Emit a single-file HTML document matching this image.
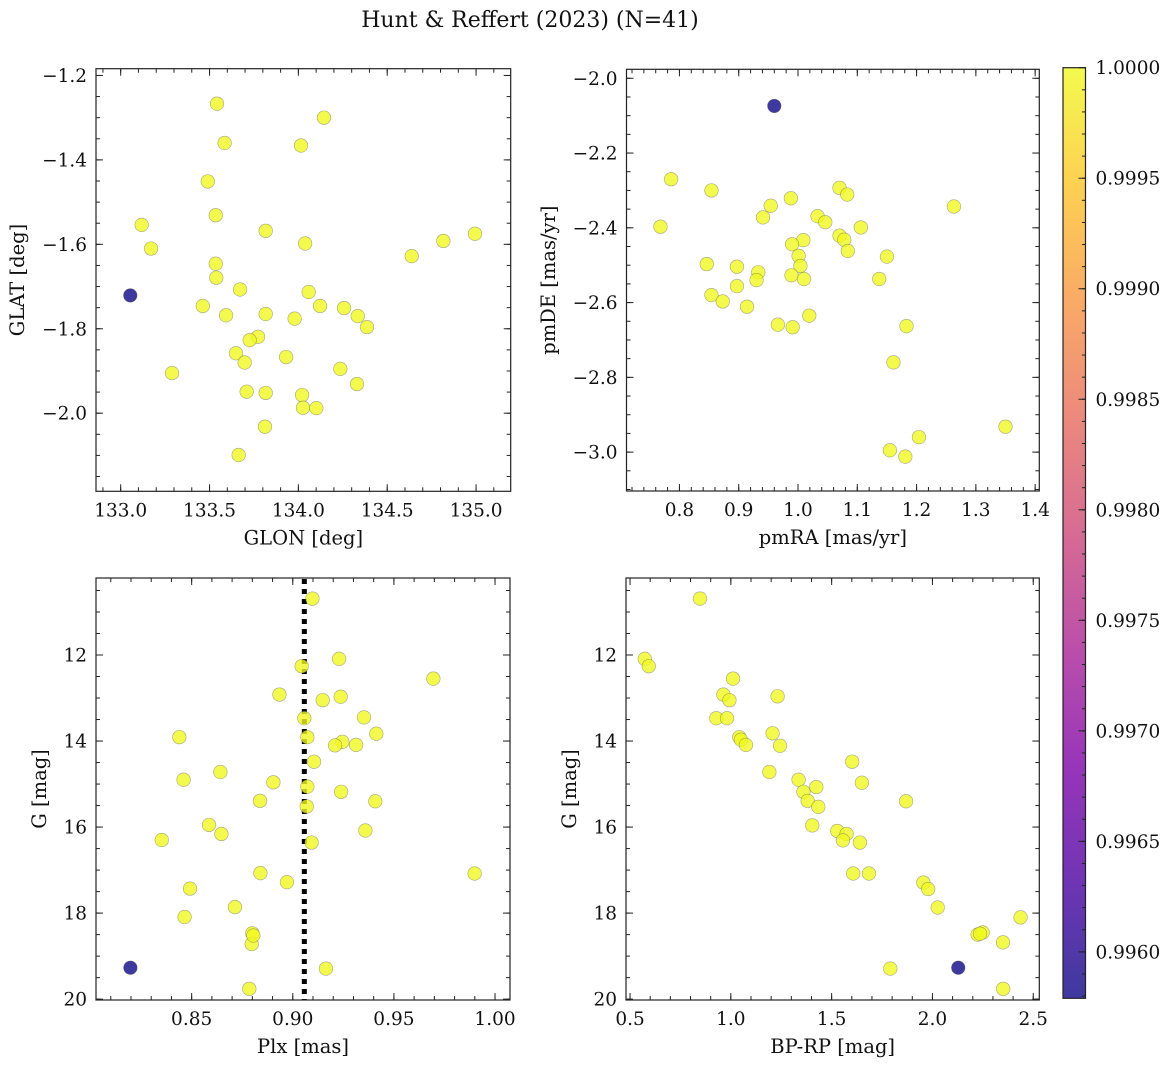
<!DOCTYPE html>
<html><head><meta charset="utf-8"><title>Hunt & Reffert (2023)</title>
<style>
html,body{margin:0;padding:0;background:#fff;}
svg text{font-family:"DejaVu Serif","Liberation Serif",serif;fill:#111;}
</style></head>
<body>
<svg id="fig" width="1173" height="1067" viewBox="0 0 1173 1067" xmlns="http://www.w3.org/2000/svg">
<defs>
<linearGradient id="plasma" x1="0" y1="1" x2="0" y2="0">
<stop offset="0" stop-color="#0d0887"/><stop offset="0.125" stop-color="#4c02a1"/>
<stop offset="0.25" stop-color="#7e03a8"/><stop offset="0.375" stop-color="#a92395"/>
<stop offset="0.5" stop-color="#cc4778"/><stop offset="0.625" stop-color="#e66c5c"/>
<stop offset="0.75" stop-color="#f89540"/><stop offset="0.875" stop-color="#fdc527"/>
<stop offset="1" stop-color="#f0f921"/>
</linearGradient>
</defs>
<text x="530" y="27" font-size="22" text-anchor="middle">Hunt &amp; Reffert (2023) (N=41)</text>
</svg>
<script>
// ---- data ----
const glon = [133.542,134.144,133.585,134.015,133.490,133.535,133.118,133.171,133.816,134.038,134.994,134.816,134.638,133.535,133.538,133.054,133.672,134.058,133.462,133.593,133.816,134.122,134.257,134.334,133.979,134.386,133.773,133.726,133.649,133.931,133.698,134.236,133.289,134.330,133.709,133.816,134.021,134.026,134.101,133.812,133.664];
const glat = [-1.267,-1.300,-1.360,-1.366,-1.451,-1.531,-1.554,-1.610,-1.568,-1.598,-1.575,-1.592,-1.628,-1.646,-1.679,-1.721,-1.707,-1.713,-1.746,-1.768,-1.765,-1.746,-1.751,-1.770,-1.776,-1.796,-1.819,-1.827,-1.858,-1.867,-1.880,-1.895,-1.905,-1.931,-1.949,-1.952,-1.957,-1.987,-1.988,-2.032,-2.099];
const glonProb = [1,1,1,1,1,1,1,1,1,1,1,1,1,1,1,0.99579,1,1,1,1,1,1,1,1,1,1,1,1,1,1,1,1,1,1,1,1,1,1,1,1,1];

const pmra = [0.960,0.786,0.854,0.768,0.988,0.954,0.941,1.070,1.083,1.263,1.033,1.046,1.106,1.070,1.078,1.009,0.990,1.084,1.001,1.150,1.004,0.846,0.897,0.933,0.930,0.989,1.010,1.137,0.897,0.854,0.873,0.914,1.019,0.966,0.991,1.183,1.161,1.350,1.204,1.155,1.181];
const pmde = [-2.074,-2.270,-2.300,-2.397,-2.321,-2.341,-2.372,-2.293,-2.311,-2.343,-2.369,-2.385,-2.399,-2.421,-2.432,-2.433,-2.444,-2.462,-2.475,-2.477,-2.502,-2.497,-2.504,-2.519,-2.540,-2.527,-2.537,-2.537,-2.556,-2.580,-2.597,-2.611,-2.635,-2.659,-2.666,-2.663,-2.760,-2.932,-2.960,-2.995,-3.012];
const pmProb = [0.99579,1,1,1,1,1,1,1,1,1,1,1,1,1,1,1,1,1,1,1,1,1,1,1,1,1,1,1,1,1,1,1,1,1,1,1,1,1,1,1,1];

const plx = [0.9097,0.9229,0.9044,0.9695,0.8934,0.9148,0.9237,0.9057,0.9352,0.9413,0.8439,0.9072,0.9245,0.9209,0.9313,0.9105,0.8642,0.8460,0.8904,0.9072,0.9239,0.8838,0.9408,0.9069,0.8586,0.8647,0.9359,0.8352,0.9093,0.8840,0.9899,0.8971,0.8492,0.8714,0.8465,0.8800,0.8797,0.8805,0.9164,0.8785,0.8197];
const gPlx = [10.69,12.09,12.26,12.55,12.92,13.05,12.97,13.47,13.45,13.83,13.91,13.91,14.02,14.10,14.09,14.48,14.72,14.90,14.96,15.06,15.18,15.39,15.40,15.52,15.95,16.16,16.08,16.30,16.36,17.07,17.08,17.28,17.43,17.86,18.09,18.47,18.72,18.52,19.29,19.76,19.27];
const plxProb = [1,1,1,1,1,1,1,1,1,1,1,1,1,1,1,1,1,1,1,1,1,1,1,1,1,1,1,1,1,1,1,1,1,1,1,1,1,1,1,1,0.99579];
const plxMean = 0.9057;

const bprp = [0.847,0.573,0.593,1.011,1.232,0.963,0.993,0.928,0.981,1.207,1.042,1.050,1.075,1.244,1.602,1.191,1.336,1.650,1.424,1.360,1.869,1.381,1.434,1.404,1.528,1.574,1.556,1.640,1.607,1.685,1.955,1.979,2.026,2.437,2.224,2.249,2.350,1.791,2.128,2.351,2.236];
const gCmd = [10.69,12.09,12.26,12.55,12.96,12.92,13.05,13.47,13.47,13.82,13.91,13.97,14.09,14.11,14.48,14.72,14.90,14.97,15.07,15.18,15.40,15.39,15.53,15.96,16.09,16.16,16.31,16.36,17.08,17.08,17.29,17.44,17.87,18.10,18.50,18.45,18.68,19.29,19.27,19.76,18.48];
const cmdProb = [1,1,1,1,1,1,1,1,1,1,1,1,1,1,1,1,1,1,1,1,1,1,1,1,1,1,1,1,1,1,1,1,1,1,1,1,1,1,0.99579,1,1];

const cbarTicks = ["0.9960","0.9965","0.9970","0.9975","0.9980","0.9985","0.9990","0.9995","1.0000"];
const xTicksA = ["133.0","133.5","134.0","134.5","135.0"];
const yTicksA = ["−1.2","−1.4","−1.6","−1.8","−2.0"];
const xTicksB = ["0.8","0.9","1.0","1.1","1.2","1.3","1.4"];
const yTicksB = ["−2.0","−2.2","−2.4","−2.6","−2.8","−3.0"];
const xTicksC = ["0.85","0.90","0.95","1.00"];
const yTicksG = ["12","14","16","18","20"];
const xTicksD = ["0.5","1.0","1.5","2.0","2.5"];

// ---- rendering ----
const NS = "http://www.w3.org/2000/svg";
const svg = document.getElementById('fig');
const VMIN = 0.99579, VMAX = 1.0;
const TICKFS = 18.5, LABELFS = 19.5;
const plasma = [[13,8,135],[76,2,161],[126,3,168],[169,35,149],[204,71,120],[230,108,92],[248,149,64],[253,197,39],[240,249,33]];
function cmap(v){
  let t=(v-VMIN)/(VMAX-VMIN); t=Math.max(0,Math.min(1,t));
  const f=t*8, i=Math.min(7,Math.floor(f)), r=f-i;
  const c=plasma[i].map((a,k)=>Math.round(a+(plasma[i+1][k]-a)*r));
  return `rgb(${c[0]},${c[1]},${c[2]})`;
}
function el(tag, attrs, parent){
  const e=document.createElementNS(NS,tag);
  for(const k in attrs) e.setAttribute(k,attrs[k]);
  (parent||svg).appendChild(e); return e;
}
function num(s){return parseFloat(s.replace('−','-'));}

function panel(o){
  const g=el('g',{});
  
  
  const {x0,x1,y0,y1}=o.box;
  const sx=v=>x0+(v-o.xr[0])/(o.xr[1]-o.xr[0])*(x1-x0);
  const sy=o.yinv ? (v=>y0+(v-o.yr[0])/(o.yr[1]-o.yr[0])*(y1-y0))
                  : (v=>y1-(v-o.yr[0])/(o.yr[1]-o.yr[0])*(y1-y0));
  const tk=el('g',{stroke:'#222','stroke-width':1},g);
  
  
  const lo=Math.min(...o.xr),hi=Math.max(...o.xr);
  for(let v=Math.ceil(lo/o.xminor-1e-6)*o.xminor; v<=hi+1e-9; v+=o.xminor){
    const X=sx(v); el('line',{x1:X,x2:X,y1:y1,y2:y1-4},tk); el('line',{x1:X,x2:X,y1:y0,y2:y0+4},tk);
  }
  const ylo=Math.min(...o.yr),yhi=Math.max(...o.yr);
  for(let v=Math.ceil(ylo/o.yminor-1e-6)*o.yminor; v<=yhi+1e-9; v+=o.yminor){
    const Y=sy(v); el('line',{y1:Y,y2:Y,x1:x0,x2:x0+4},tk); el('line',{y1:Y,y2:Y,x1:x1,x2:x1-4},tk);
  }
  o.xt.forEach(s=>{const X=sx(num(s));
    el('line',{x1:X,x2:X,y1:y1,y2:y1-7},tk); el('line',{x1:X,x2:X,y1:y0,y2:y0+7},tk);
    const t=el('text',{x:X,y:y1+25,'font-size':TICKFS,'text-anchor':'middle'},g); t.textContent=s;
    
    
  });
  o.yt.forEach(s=>{const Y=sy(num(s));
    el('line',{y1:Y,y2:Y,x1:x0,x2:x0+7},tk); el('line',{y1:Y,y2:Y,x1:x1,x2:x1-7},tk);
    const t=el('text',{x:x0-9,y:Y+6.5,'font-size':TICKFS,'text-anchor':'end'},g); t.textContent=s;
    
    
  });
  if(o.vline!==undefined){
    const l=el('line',{x1:sx(o.vline),x2:sx(o.vline),y1:y0+1,y2:y1,stroke:'#000','stroke-width':5,'stroke-dasharray':'5 5'},g);
    
    
  }
  o.xs.forEach((v,i)=>{
    const c=el('circle',{cx:sx(v),cy:sy(o.ys[i]),r:6.8,fill:cmap(o.cs[i]),'fill-opacity':0.8,stroke:'#555','stroke-opacity':0.5,'stroke-width':0.6},g);
    
    
  });
  const fr=el('rect',{x:x0,y:y0,width:x1-x0,height:y1-y0,fill:'none',stroke:'#222','stroke-width':1.2},g);
  
  
  const xl=el('text',{x:(x0+x1)/2,y:y1+53,'font-size':LABELFS,'text-anchor':'middle'},g); xl.textContent=o.xlabel;
  
  
  const yl=el('text',{x:0,y:0,'font-size':LABELFS,'text-anchor':'middle',transform:`translate(${o.ylx},${(y0+y1)/2}) rotate(-90)`},g); yl.textContent=o.ylabel;
  
  
}

panel({name:'sky-position-panel',box:{x0:96,x1:510.7,y0:68.7,y1:491.3},xr:[132.861,135.195],yr:[-2.185,-1.184],
  xs:glon,ys:glat,cs:glonProb,xt:xTicksA,yt:yTicksA,xminor:0.1,yminor:0.05,xlabel:'GLON [deg]',ylabel:'GLAT [deg]',ylx:24});
panel({name:'proper-motion-panel',box:{x0:626.5,x1:1039.3,y0:69.3,y1:491},xr:[0.7107,1.407],yr:[-3.104,-1.976],
  xs:pmra,ys:pmde,cs:pmProb,xt:xTicksB,yt:yTicksB,xminor:0.02,yminor:0.05,xlabel:'pmRA [mas/yr]',ylabel:'pmDE [mas/yr]',ylx:555});
panel({name:'parallax-magnitude-panel',box:{x0:96,x1:510,y0:578,y1:1000},xr:[0.8027,1.0074],yr:[10.21,20.02],yinv:true,
  xs:plx,ys:gPlx,cs:plxProb,xt:xTicksC,yt:yTicksG,xminor:0.01,yminor:0.5,xlabel:'Plx [mas]',ylabel:'G [mag]',ylx:46,vline:plxMean});
panel({name:'color-magnitude-panel',box:{x0:626,x1:1039.3,y0:578,y1:1000},xr:[0.480,2.530],yr:[10.21,20.02],yinv:true,
  xs:bprp,ys:gCmd,cs:cmdProb,xt:xTicksD,yt:yTicksG,xminor:0.1,yminor:0.5,xlabel:'BP-RP [mag]',ylabel:'G [mag]',ylx:576});

// colorbar
(function(){
  const g=el('g',{});
  
  
  const x0=1063,x1=1085.5,y0=67.7,y1=998.3;
  const r=el('rect',{x:x0,y:y0,width:x1-x0,height:y1-y0,fill:'url(#plasma)','fill-opacity':0.8},g);
  
  
  const sy=v=>y1-(v-VMIN)/(VMAX-VMIN)*(y1-y0);
  for(let v=0.9958; v<=1.00001; v+=0.0001){
    if(v<VMIN) continue;
    const Y=sy(v); el('line',{x1:x1,x2:x1-3.5,y1:Y,y2:Y,stroke:'#222'},g);
  }
  cbarTicks.forEach(s=>{const Y=sy(parseFloat(s));
    el('line',{x1:x1,x2:x1-7,y1:Y,y2:Y,stroke:'#222'},g);
    const t=el('text',{x:x1+10,y:Y+6.5,'font-size':TICKFS},g); t.textContent=s;
    
    
  });
  el('rect',{x:x0,y:y0,width:x1-x0,height:y1-y0,fill:'none',stroke:'#222','stroke-width':1.2},g);
})();
</script>
</body></html>
